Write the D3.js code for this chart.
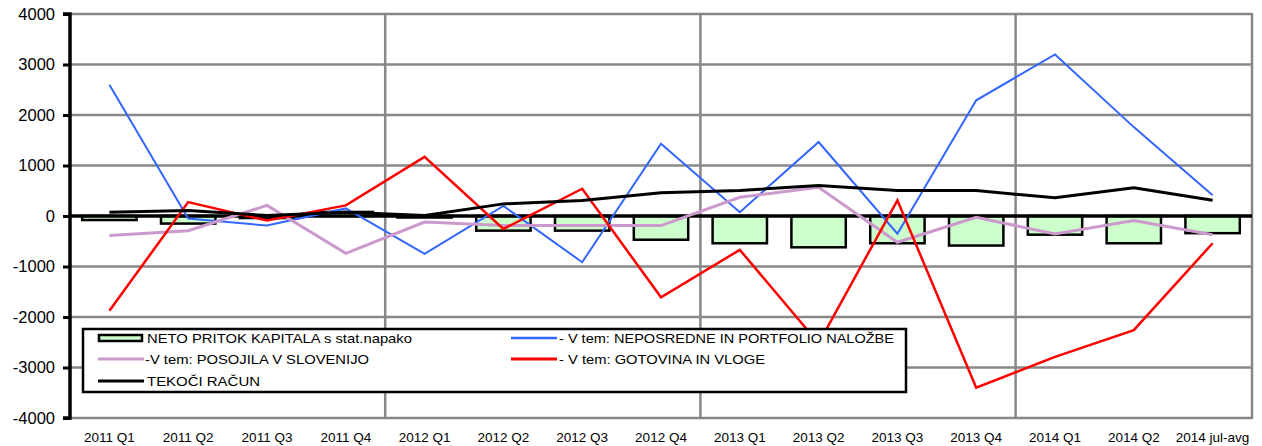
<!DOCTYPE html>
<html>
<head>
<meta charset="utf-8">
<script src="https://cdn.jsdelivr.net/npm/d3@7"></script>
<style>
  html, body { margin: 0; padding: 0; background: #fff; }
  svg { display: block; font-family: "Liberation Sans", Arial, sans-serif; }
</style>
</head>
<body>
<svg id="chart" width="1262" height="446"></svg>
<script>
const categories = ["2011 Q1","2011 Q2","2011 Q3","2011 Q4","2012 Q1","2012 Q2","2012 Q3","2012 Q4","2013 Q1","2013 Q2","2013 Q3","2013 Q4","2014 Q1","2014 Q2","2014 jul-avg"];
const netoPritok   = [-80, -150, -40, 80, -30, -290, -290, -470, -540, -620, -540, -585, -370, -540, -340];
const neposredne   = [2600, -50, -190, 150, -750, 200, -915, 1430, 75, 1465, -350, 2290, 3200, 1760, 410];
const posojila     = [-385, -290, 210, -740, -120, -190, -190, -190, 370, 570, -520, -25, -355, -90, -370];
const gotovina     = [-1875, 275, -90, 210, 1170, -255, 540, -1610, -670, -2520, 310, -3400, -2790, -2260, -540];
const tekociRacun  = [75, 110, 10, 75, 10, 240, 305, 460, 505, 605, 505, 505, 360, 560, 310];
const yTicks = [-4000, -3000, -2000, -1000, 0, 1000, 2000, 3000, 4000];
const seriesNames = {
  bars: "NETO PRITOK KAPITALA s stat.napako",
  blue: "- V tem: NEPOSREDNE IN PORTFOLIO NALOŽBE",
  lilac: "-V tem: POSOJILA V SLOVENIJO",
  red: "- V tem: GOTOVINA IN VLOGE",
  black: "TEKOČI RAČUN"
};

(function () {
const svg = d3.select("#chart");
const pLeft = 70, pRight = 1252, pTop = 14, pBottom = 418;

const x = d3.scaleBand().domain(categories).range([pLeft, pRight]).paddingInner(0.31).paddingOuter(0.155);
const xc = d3.scaleBand().domain(categories).range([pLeft, pRight]);
const y = d3.scaleLinear().domain([-4000, 4000]).range([pBottom, pTop]);

// horizontal gridlines
svg.append("g").selectAll("line").data(yTicks.filter(d => d !== 0)).join("line")
  .attr("x1", pLeft).attr("x2", pRight)
  .attr("y1", d => y(d)).attr("y2", d => y(d))
  .attr("stroke", "#888").attr("stroke-width", 2.5);

// vertical gridlines at year boundaries + right border
const vLines = [categories[4], categories[8], categories[12]];
svg.append("g").selectAll("line").data(vLines).join("line")
  .attr("x1", d => xc(d)).attr("x2", d => xc(d))
  .attr("y1", pTop).attr("y2", pBottom)
  .attr("stroke", "#888").attr("stroke-width", 2.5);
svg.append("line").attr("x1", pRight).attr("x2", pRight).attr("y1", pTop - 1).attr("y2", pBottom + 1)
  .attr("stroke", "#888").attr("stroke-width", 2.5);

// bars
svg.append("g").selectAll("rect").data(categories).join("rect")
  .attr("x", d => x(d))
  .attr("width", x.bandwidth())
  .attr("y", (d, i) => Math.min(y(0), y(netoPritok[i])))
  .attr("height", (d, i) => Math.abs(y(netoPritok[i]) - y(0)))
  .attr("fill", "#ccffcc").attr("stroke", "#000").attr("stroke-width", 2.5);

// zero line
svg.append("line").attr("x1", pLeft).attr("x2", pRight).attr("y1", y(0)).attr("y2", y(0))
  .attr("stroke", "#000").attr("stroke-width", 3.5);

// y axis
const yAxis = d3.axisLeft(y).tickValues(yTicks).tickSize(7).tickFormat(d => String(d));
const ga = svg.append("g").attr("transform", `translate(${pLeft},0)`).call(yAxis);
ga.select(".domain").attr("stroke", "#000").attr("stroke-width", 3.5).attr("d", `M-7,${pTop}H0V${pBottom}H-7`);
ga.selectAll(".tick line").attr("stroke", "#000").attr("stroke-width", 3);
ga.selectAll(".tick text").attr("x", -15).attr("font-size", "16.5px").attr("fill", "#000")
  .attr("font-family", "Liberation Sans, Arial, sans-serif");

// x axis labels
const xAxis = d3.axisBottom(xc).tickSize(0).tickPadding(0);
const gx = svg.append("g").attr("transform", `translate(0,${pBottom})`).call(xAxis);
gx.select(".domain").remove();
gx.selectAll(".tick text").attr("y", 14).attr("dy", "0.71em").attr("font-size", "13.5px").attr("fill", "#000")
  .attr("font-family", "Liberation Sans, Arial, sans-serif");

// lines
const lineGen = d3.line().x((d, i) => xc(categories[i]) + xc.bandwidth() / 2).y(d => y(d));
const lines = [
  { data: neposredne, color: "#3366ff", w: 2 },
  { data: posojila, color: "#cc99cc", w: 3 },
  { data: gotovina, color: "#ff0000", w: 2.5 },
  { data: tekociRacun, color: "#000000", w: 3 }
];
svg.append("g").selectAll("path").data(lines).join("path")
  .attr("d", d => lineGen(d.data))
  .attr("fill", "none").attr("stroke", d => d.color).attr("stroke-width", d => d.w)
  .attr("stroke-linejoin", "miter");

// legend
const lg = svg.append("g");
lg.append("rect").attr("x", 83).attr("y", 329).attr("width", 823).attr("height", 63)
  .attr("fill", "#fff").attr("stroke", "#000").attr("stroke-width", 2.5);
const legendItems = [
  { name: seriesNames.bars, type: "bar", color: "#ccffcc", sx: 98, tx: 147, ty: 338, tw: 265 },
  { name: seriesNames.blue, type: "line", color: "#3366ff", w: 2.5, sx: 511, tx: 559, ty: 338, tw: 335 },
  { name: seriesNames.lilac, type: "line", color: "#cc99cc", w: 3, sx: 98, tx: 145, ty: 359, tw: 224 },
  { name: seriesNames.red, type: "line", color: "#ff0000", w: 3, sx: 511, tx: 559, ty: 359, tw: 206 },
  { name: seriesNames.black, type: "line", color: "#000", w: 3, sx: 98, tx: 147, ty: 381, tw: 113 }
];
legendItems.forEach(it => {
  if (it.type === "bar") {
    lg.append("rect").attr("x", it.sx + 1).attr("y", it.ty - 3).attr("width", 43).attr("height", 6)
      .attr("fill", it.color).attr("stroke", "#000").attr("stroke-width", 2.5);
  } else {
    lg.append("line").attr("x1", it.sx).attr("x2", it.sx + 46).attr("y1", it.ty).attr("y2", it.ty)
      .attr("stroke", it.color).attr("stroke-width", it.w);
  }
  lg.append("text").attr("x", it.tx).attr("y", it.ty).attr("dy", "0.36em")
    .attr("font-size", "13px").attr("fill", "#000")
    .attr("textLength", it.tw).attr("lengthAdjust", "spacingAndGlyphs")
    .text(it.name);
});
})();
</script>
</body>
</html>
